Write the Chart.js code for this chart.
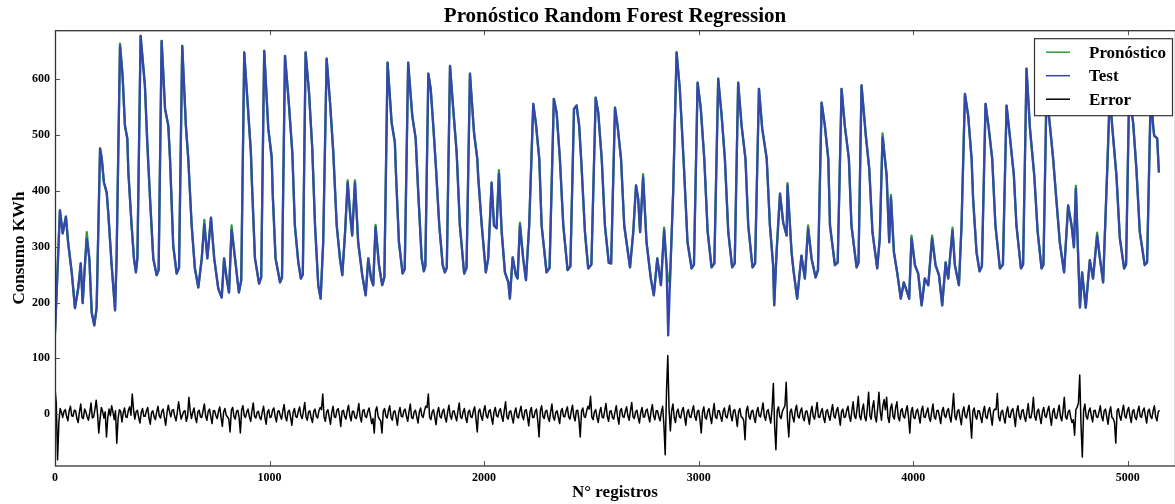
<!DOCTYPE html>
<html lang="es">
<head>
<meta charset="utf-8">
<title>Pronóstico Random Forest Regression</title>
<script src="https://cdn.jsdelivr.net/npm/chart.js@4.4.1/dist/chart.umd.min.js"></script>
<style>
  html, body { margin:0; padding:0; background:#fff; }
  #wrap { width:1175px; height:504px; }
</style>
</head>
<body>
<div id="wrap"><canvas id="grafico" width="1175" height="504"></canvas></div>
<script>
const SERIF = '"Liberation Serif", "Times New Roman", serif';

// tick labels
const ticksX = [0, 1000, 2000, 3000, 4000, 5000];
const ticksY = [0, 100, 200, 300, 400, 500, 600];

// Test series: N° registro / consumo (KWh)
const registrosTest = [
  0,23,36,51,61,78,93,108,120,129,
  137,148,160,171,183,194,210,218,228,241,
  249,264,280,287,303,315,326,337,342,357,
  368,377,384,399,419,430,443,458,474,483,
  497,513,528,536,551,567,578,593,610,621,
  637,652,668,684,696,710,727,742,761,777,
  788,800,811,823,839,857,868,882,898,913,
  917,932,951,961,975,994,1010,1015,1028,1049,
  1058,1072,1090,1106,1118,1134,1146,1155,1168,1184,
  1199,1212,1227,1238,1250,1266,1282,1297,1313,1328,
  1339,1352,1364,1375,1385,1398,1413,1432,1448,1460,
  1473,1483,1494,1510,1525,1535,1550,1569,1584,1589,
  1603,1620,1630,1646,1665,1681,1693,1709,1719,1726,
  1740,1751,1763,1775,1791,1807,1817,1826,1841,1856,
  1872,1887,1907,1918,1934,1953,1968,1973,1989,2008,
  2019,2035,2046,2058,2069,2082,2097,2113,2120,2133,
  2148,2156,2167,2182,2195,2210,2229,2241,2257,2268,
  2291,2305,2325,2338,2353,2369,2389,2402,2419,2431,
  2443,2454,2470,2485,2500,2520,2532,2548,2563,2581,
  2592,2610,2622,2638,2653,2680,2695,2708,2718,2727,
  2741,2757,2777,2791,2807,2824,2839,2850,2858,2866,
  2881,2897,2912,2931,2948,2967,2978,2995,3010,3026,
  3042,3060,3073,3091,3107,3122,3138,3156,3168,3184,
  3200,3218,3231,3251,3263,3281,3296,3317,3332,3347,
  3352,3363,3379,3394,3410,3414,3433,3442,3459,3479,
  3495,3510,3526,3545,3556,3573,3588,3604,3612,3635,
  3648,3666,3681,3700,3712,3736,3745,3759,3779,3795,
  3810,3832,3844,3857,3876,3888,3896,3910,3925,3942,
  3956,3972,3981,3992,4008,4023,4039,4054,4070,4088,
  4104,4120,4135,4151,4163,4183,4194,4213,4225,4241,
  4256,4272,4279,4295,4309,4320,4337,4352,4368,4383,
  4404,4418,4435,4450,4469,4481,4502,4512,4528,4544,
  4564,4580,4598,4607,4621,4637,4652,4663,4683,4703,
  4722,4738,4749,4758,4769,4777,4787,4804,4823,4838,
  4857,4870,4885,4906,4916,4927,4947,4963,4983,4992,
  5006,5025,5040,5056,5079,5090,5107,5118,5123,5137,
  5145
];
const consumoTest = [
  145,365,324,354,308,254,190,225,270,199,
  252,315,279,182,159,190,476,458,415,397,
  356,267,186,279,660,606,517,494,433,338,
  279,254,279,678,589,487,386,279,249,258,
  669,547,517,458,302,252,262,660,517,458,
  338,261,227,279,340,279,352,279,225,209,
  279,243,218,330,279,218,240,648,556,469,
  422,279,234,245,651,512,458,392,279,236,
  245,642,556,469,338,272,243,250,648,576,
  476,338,231,207,308,637,558,469,338,279,
  249,326,415,361,320,415,308,249,213,279,
  243,231,335,267,231,245,630,522,487,433,
  308,252,260,630,535,494,397,279,256,265,
  610,583,517,445,338,267,254,262,624,547,
  469,338,252,262,610,504,458,422,338,254,
  279,415,338,333,431,326,254,236,207,281,
  249,243,338,279,240,338,556,522,458,338,
  254,262,565,540,458,338,258,265,547,553,
  517,445,326,261,268,567,540,458,338,271,
  270,549,517,458,338,263,326,410,386,326,
  424,308,243,213,279,231,329,267,141,236,
  397,648,583,445,308,261,268,594,547,458,
  326,263,270,601,535,458,326,263,270,594,
  517,458,338,263,270,583,512,458,338,267,
  195,290,395,343,320,410,290,257,207,284,
  243,333,279,245,258,558,517,458,338,267,
  272,583,517,458,338,263,272,589,499,440,
  326,261,315,496,428,308,388,290,254,207,
  236,218,207,315,267,252,195,243,231,315,
  267,249,195,272,243,329,267,231,338,574,
  535,458,386,290,256,265,556,512,458,338,
  261,268,553,499,428,338,261,268,619,512,
  428,326,261,268,576,517,458,404,308,254,
  374,338,299,404,279,191,254,191,276,243,
  320,279,236,458,575,517,428,315,261,268,
  570,522,440,326,267,272,575,517,499,494,
  433
];

// where the forecast visibly departs from the test line: [registro, KWh]
const pronosticoAjustes = [
  [148,326],[303,664],[696,348],[823,338],[1010,463],[1364,419],[1398,419],
  [1494,339],[2069,437],[2167,343],[2741,430],[2839,334],[2858,240],[3414,414],
  [3510,338],[3857,503],[3896,393],[3992,320],[4088,320],[4183,334],[4758,409],[4857,325]
];

// Error, one reading every pasoError registros
const pasoError = 6;
const errorValores = [
  46,20,-82,-15,10,3,-6,5,8,-4,-12,6,14,-3,-4,7,6,-8,-15,4,18,-6,-8,9,4,-5,-11,3,20,-7,-5,8,25,2,-34,-9,12,5,-7,4,
  -41,-6,9,-3,15,4,-10,6,-52,-8,8,5,-14,2,11,-5,-6,7,13,-2,36,8,-9,4,7,-6,-16,3,10,-4,-4,6,12,-7,-18,3,6,-5,-10,4,
  14,-3,-7,5,9,-6,-20,2,16,4,-5,7,8,-4,-12,3,22,5,-9,-2,5,6,-13,-4,30,7,-8,3,11,-6,-15,4,7,-5,-6,6,18,-3,-11,5,
  9,-4,-17,6,6,-3,-8,5,13,-6,-22,4,10,-2,-5,-9,-32,7,12,-4,-9,5,7,-6,-34,8,15,-3,-6,4,9,-5,-13,6,20,-4,-7,3,5,-6,
  -10,4,14,-5,-18,3,8,-6,-5,7,11,-4,-14,5,6,-3,-9,6,17,-5,-12,4,7,-6,-20,3,10,-4,-6,5,13,-3,-8,6,21,-5,-11,4,6,-7,
  -15,5,9,-4,-7,6,12,8,36,-5,-13,4,8,-6,-18,3,14,-5,-6,7,10,-3,-22,5,7,-4,-9,6,16,-3,-12,5,5,-6,-8,4,19,-5,-14,6,
  8,-4,-6,5,11,-3,-17,-8,-34,6,13,-4,-9,-12,-34,5,10,-3,-7,6,15,-5,-11,4,6,-6,-20,3,12,-4,-5,6,9,-4,-13,5,18,-6,-8,4,
  7,-5,-16,4,11,-3,-6,6,14,12,36,-6,-10,4,8,-5,-19,3,12,-4,-7,5,9,-6,-14,4,16,-3,-9,5,6,-4,-12,6,20,-5,-8,4,10,-6,
  -15,4,7,-5,-6,6,13,-8,-32,5,9,-4,-11,6,15,-3,-7,5,8,-6,-18,4,12,-3,-5,6,10,-4,-13,7,22,-5,-9,4,6,-6,-16,3,11,-5,
  -7,5,14,-4,-10,6,8,-5,-21,4,12,-6,-6,5,9,-12,-41,6,15,-4,-8,5,7,-6,-13,4,18,-5,-11,3,6,-6,-17,5,10,-4,-5,6,13,-5,
  -9,5,16,-4,-12,6,7,-10,-41,5,11,-4,-6,6,14,9,32,-5,-10,4,8,-6,-15,3,12,-5,-7,6,19,-4,-13,5,6,-6,-9,4,15,-5,-18,6,
  10,-4,-6,5,13,-3,-11,6,21,-5,-8,4,7,-6,-16,3,12,-5,-5,6,9,-4,-14,5,17,-3,-10,6,6,-5,-12,4,14,-20,-73,40,105,8,-30,6,
  18,-6,-15,4,9,-5,-7,6,12,-4,-20,3,8,-5,-6,6,15,-4,-11,5,7,-10,-34,4,13,-6,-9,5,10,-4,-17,3,19,-5,-8,6,6,-4,-13,5,
  11,-4,-7,5,16,-3,-12,6,8,-5,-22,4,10,-5,-6,-12,-46,6,14,-4,-9,5,7,-6,-15,4,12,-3,-5,7,20,-4,-11,5,8,-6,-16,10,55,-20,
  -64,6,13,-4,-8,5,10,15,57,-10,-41,4,9,-5,-14,6,16,-3,-7,5,11,-6,-12,4,6,-5,-18,3,14,-4,-9,6,21,-5,-6,4,10,-6,-15,5,
  8,-4,-11,5,17,-3,-7,6,12,-4,-20,5,9,-6,-5,7,14,-4,-13,6,22,-3,-8,9,32,-4,-10,8,18,-5,-12,10,39,-3,-9,12,24,-4,-14,9,
  39,5,-11,14,26,8,30,-6,-15,10,18,-4,-9,12,22,-5,-12,6,10,-4,-7,6,15,-5,-34,4,12,-6,-8,5,9,-4,-16,6,14,-5,-6,4,11,-6,
  -13,4,18,-5,-9,6,7,-4,-17,5,12,-3,-6,6,10,-5,-14,9,37,-4,-10,5,8,-6,-19,4,13,-3,-7,6,16,-10,-43,5,11,-4,-9,6,6,-5,
  -15,4,14,-5,-8,6,12,-4,-20,5,9,8,37,-5,-12,4,7,-6,-16,3,13,-5,-6,6,10,-4,-22,5,15,-3,-9,6,8,-5,-13,4,19,-6,-7,5,
  30,-4,-11,5,9,-6,-17,4,12,-3,-6,6,14,-5,-20,4,10,-6,-8,5,16,-4,-12,6,30,-5,-9,4,7,-6,-15,-10,-38,8,12,20,70,-20,-77,6,
  18,-4,-9,5,11,-3,-14,6,7,-5,-6,4,15,-4,-12,6,9,-5,-18,3,13,-6,-8,-15,-52,6,10,-4,-11,5,16,-3,-7,6,12,-4,-15,5,8,-6,
  -10,5,14,-4,-6,6,11,-3,-16,5,9,-4,-8,6,15,-5,-12,4,7
];

const pronosticoY = consumoTest.slice();
pronosticoAjustes.forEach(([x, y]) => {
  const i = registrosTest.indexOf(x);
  if (i >= 0) pronosticoY[i] = y;
});
const puntos = (xs, ys) => xs.map((x, i) => ({ x, y: ys[i] }));
const errorX = errorValores.map((_, i) => i * pasoError);

// axes box + little inward ticks, like matplotlib
const marco = {
  id: 'marco',
  afterDatasetsDraw(chart){
    const { ctx, chartArea: a, scales } = chart;
    ctx.save();
    ctx.strokeStyle = '#555'; ctx.lineWidth = 1;
    ctx.beginPath();
    scales.x.ticks.forEach(t => {
      const px = Math.round(scales.x.getPixelForValue(t.value)) + 0.5;
      ctx.moveTo(px, a.bottom); ctx.lineTo(px, a.bottom - 5);
      ctx.moveTo(px, a.top); ctx.lineTo(px, a.top + 5);
    });
    scales.y.ticks.forEach(t => {
      const py = Math.round(scales.y.getPixelForValue(t.value)) + 0.5;
      ctx.moveTo(a.left, py); ctx.lineTo(a.left + 5, py);
    });
    ctx.stroke();
    ctx.strokeStyle = '#333'; ctx.lineWidth = 1.3;
    ctx.strokeRect(a.left + 0.5, a.top + 0.5, a.right - a.left, a.bottom - a.top - 0.5);
    ctx.restore();
  }
};

// legend box drawn over the lines (top right)
const leyenda = {
  id: 'leyenda',
  afterDatasetsDraw(chart){
    const { ctx, chartArea: a } = chart;
    const w = 138, h = 77, x0 = a.right - w - 3, y0 = a.top + 8;
    ctx.save();
    ctx.fillStyle = '#fff'; ctx.fillRect(x0, y0, w, h);
    ctx.strokeStyle = '#333'; ctx.lineWidth = 1.2;
    ctx.strokeRect(x0 + 0.5, y0 + 0.5, w, h);
    ctx.font = 'bold 17px ' + SERIF;
    ctx.textBaseline = 'middle';
    chart.data.datasets.forEach((ds, i) => {
      const y = y0 + 14 + i * 23.5;
      ctx.strokeStyle = ds.borderColor; ctx.lineWidth = 1.5;
      ctx.beginPath(); ctx.moveTo(x0 + 12, y); ctx.lineTo(x0 + 36, y); ctx.stroke();
      ctx.fillStyle = '#000';
      ctx.fillText(ds.label, x0 + 55, y + 1);
    });
    ctx.restore();
  }
};

const tickFont = { family: SERIF, size: 12, weight: 'bold' };
const titleFont = { family: SERIF, size: 17, weight: 'bold' };
const fijarTicks = vals => s => { s.ticks = vals.map(v => ({ value: v })); };

new Chart(document.getElementById('grafico'), {
  type: 'line',
  data: {
    datasets: [
      { label: 'Pronóstico', data: puntos(registrosTest, pronosticoY), borderColor: '#2f9a35', borderWidth: 2.3, order: 2 },
      { label: 'Test', data: puntos(registrosTest, consumoTest), borderColor: '#3447ad', borderWidth: 2.3, order: 1 },
      { label: 'Error', data: puntos(errorX, errorValores), borderColor: '#000', borderWidth: 1.5, order: 0 }
    ]
  },
  options: {
    responsive: false,
    animation: false,
    elements: { point: { radius: 0 }, line: { tension: 0, fill: false, borderJoinStyle: 'round' } },
    layout: { padding: 0 },
    plugins: {
      legend: { display: false },
      tooltip: { enabled: false },
      title: {
        display: true, text: 'Pronóstico Random Forest Regression', fullSize: false,
        color: '#000', font: { family: SERIF, size: 21, weight: 'bold' },
        padding: { top: 4, bottom: 1 }
      }
    },
    scales: {
      x: {
        type: 'linear', min: 0, max: 5220,
        grid: { display: false, drawTicks: false },
        border: { display: false },
        afterBuildTicks: fijarTicks(ticksX),
        ticks: { padding: 5, color: '#000', font: tickFont, maxRotation: 0, autoSkip: false, callback: v => String(v) },
        title: { display: true, text: 'N° registros', color: '#000', font: titleFont, padding: { top: 0, bottom: 1 } },
        afterFit: s => { s.height = 38; }
      },
      y: {
        min: -93, max: 688,
        grid: { display: false, drawTicks: false },
        border: { display: false },
        afterBuildTicks: fijarTicks(ticksY),
        ticks: { padding: 5, color: '#000', font: tickFont, autoSkip: false, callback: v => String(v) },
        title: { display: true, text: 'Consumo KWh', color: '#000', font: titleFont, padding: { top: 9, bottom: 0 } },
        afterFit: s => { s.width = 55; }
      }
    }
  },
  plugins: [marco, leyenda]
});
</script>
</body>
</html>
